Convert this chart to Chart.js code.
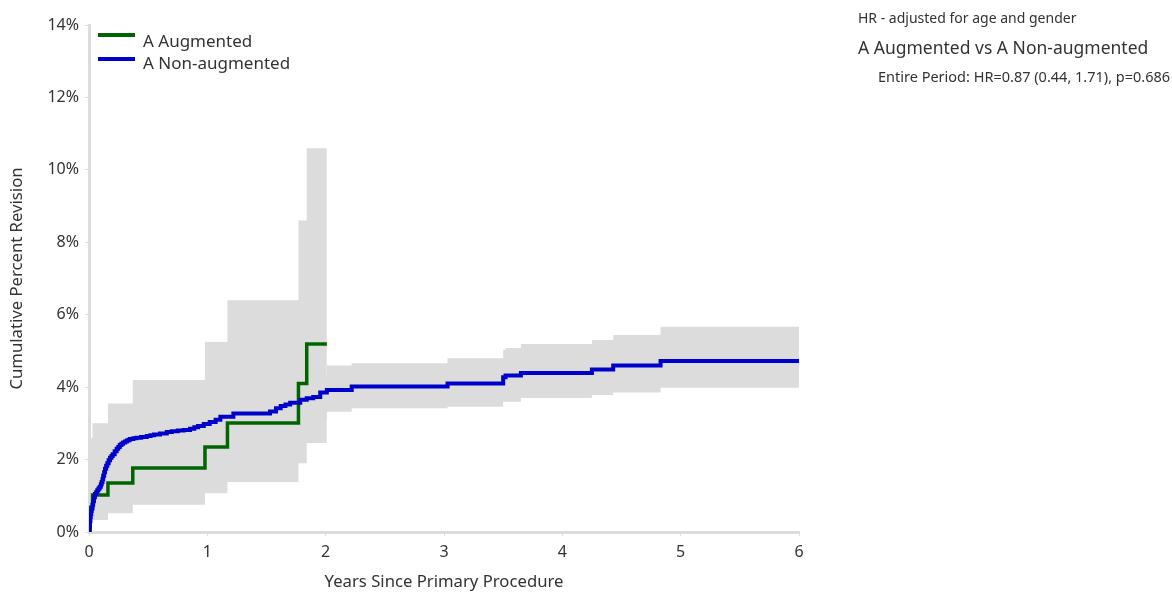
<!DOCTYPE html>
<html>
<head>
<meta charset="utf-8">
<title>Cumulative Percent Revision</title>
<script src="https://cdn.jsdelivr.net/npm/chart.js@4.4.1/dist/chart.umd.min.js"></script>
<style>
    html, body { margin: 0; padding: 0; background: #fff; }
    #wrap { position: relative; width: 1172px; height: 594px; font-family: "Noto Sans", sans-serif; color: #333; }
    #myChart { position: absolute; left: 0; top: 0; }
    .txt { position: absolute; white-space: nowrap; line-height: 1; }
    .key { position: absolute; left: 98px; width: 37px; height: 4px; }
</style>
</head>
<body>
<div id="wrap">
    <canvas id="myChart" width="1172" height="594"></canvas>
    <!-- legend -->
    <div class="key" style="top:33px; background:#006400;"></div>
    <div class="txt" style="left:143px; top:32px; font-size:17px;">A Augmented</div>
    <div class="key" style="top:57px; background:#0000cc;"></div>
    <div class="txt" style="left:143px; top:54px; font-size:17px;">A Non-augmented</div>
    <!-- hazard ratio notes -->
    <div class="txt" style="left:858px; top:11px; font-size:14px;">HR - adjusted for age and gender</div>
    <div class="txt" style="left:858px; top:39px; font-size:17.5px;">A Augmented vs A Non-augmented</div>
    <div class="txt" style="left:878px; top:69px; font-size:14.5px;">Entire Period: HR=0.87 (0.44, 1.71), p=0.686</div>
</div>
<script>
// A Augmented - cumulative percent revision
const augYears = [0, 0.01, 0.03, 0.16, 0.37, 0.98, 1.17, 1.77, 1.84, 2.01];
const augPct   = [0, 0.68, 1.02, 1.35, 1.77, 2.35, 3.01, 4.10, 5.19, 5.19];
// A Augmented - 95% CI
const augUpper = [0, 2.6, 3.0, 3.55, 4.2, 5.25, 6.4, 8.6, 10.6, 10.6];
const augLower = [0, 0.33, 0.33, 0.52, 0.75, 1.07, 1.38, 1.9, 2.46, 2.46];

// A Non-augmented - cumulative percent revision
const nonYears = [0, 0.004, 0.008, 0.012, 0.015, 0.019, 0.023, 0.029, 0.035, 0.042, 0.05, 0.06, 0.07, 0.08,
    0.09, 0.1, 0.107, 0.114, 0.12, 0.128, 0.135, 0.145, 0.155, 0.166, 0.178, 0.19, 0.2, 0.217, 0.234,
    0.247, 0.26, 0.274, 0.288, 0.305, 0.32, 0.335, 0.347, 0.375, 0.4, 0.44, 0.488, 0.52, 0.55, 0.6,
    0.657, 0.7, 0.75, 0.8, 0.854, 0.89, 0.922, 0.97, 1.02, 1.07, 1.11, 1.22, 1.53, 1.58, 1.62, 1.66,
    1.70, 1.785, 1.84, 1.895, 1.954, 2.01, 2.22, 3.03, 3.50, 3.52, 3.65, 4.25, 4.43, 4.83, 6.0];
const nonPct = [0, 0.15, 0.3, 0.42, 0.5, 0.58, 0.65, 0.75, 0.85, 0.96, 1.05, 1.1, 1.15, 1.2,
    1.25, 1.32, 1.38, 1.46, 1.55, 1.65, 1.75, 1.83, 1.9, 1.98, 2.05, 2.1, 2.15, 2.23, 2.3,
    2.35, 2.4, 2.44, 2.47, 2.5, 2.53, 2.55, 2.57, 2.59, 2.6, 2.62, 2.65, 2.67, 2.69, 2.72,
    2.76, 2.78, 2.8, 2.82, 2.85, 2.89, 2.93, 2.98, 3.04, 3.1, 3.18, 3.27, 3.33, 3.42, 3.48, 3.52,
    3.57, 3.65, 3.69, 3.73, 3.85, 3.92, 4.02, 4.1, 4.27, 4.32, 4.39, 4.49, 4.6, 4.72, 4.72];
// A Non-augmented - 95% CI
const nonBandYears = [0, 0.05, 0.1, 0.2, 0.35, 0.6, 1.0, 1.3, 1.6, 1.8, 2.01, 2.22, 3.03, 3.5, 3.52, 3.65, 4.25, 4.43, 4.83, 6.0];
const nonUpper = [0, 1.5, 2.0, 2.7, 3.1, 3.3, 3.6, 3.9, 4.1, 4.3, 4.6, 4.66, 4.8, 5.03, 5.08, 5.19, 5.3, 5.44, 5.67, 5.67];
const nonLower = [0, 0.7, 1.0, 1.7, 2.1, 2.3, 2.6, 2.8, 3.0, 3.1, 3.32, 3.42, 3.46, 3.6, 3.6, 3.7, 3.78, 3.85, 3.98, 3.98];

const yTicks = [0, 2, 4, 6, 8, 10, 12, 14];
const xTicks = [0, 1, 2, 3, 4, 5, 6];

const FONT = '"Noto Sans", sans-serif';
const BAND = '#dcdcdc';
const AXIS = '#dcdcdc';

function pts(xs, ys) {
    return xs.map(function (x, i) { return { x: x, y: ys[i] }; });
}

function band(xs, ys, fill) {
    return {
        data: pts(xs, ys),
        stepped: true,
        borderColor: 'rgba(0,0,0,0)',
        borderWidth: 0,
        backgroundColor: BAND,
        pointRadius: 0,
        fill: fill
    };
}

const ctx = document.getElementById('myChart').getContext('2d');

new Chart(ctx, {
    type: 'line',
    data: {
        datasets: [
            {
                label: 'A Non-augmented',
                data: pts(nonYears, nonPct),
                stepped: true,
                borderColor: '#0000cc',
                borderWidth: 4,
                pointRadius: 0,
                fill: false
            },
            {
                label: 'A Augmented',
                data: pts(augYears, augPct),
                stepped: true,
                borderColor: '#006400',
                borderWidth: 3.5,
                pointRadius: 0,
                fill: false
            },
            band(augYears, augUpper, '+1'),
            band(augYears, augLower, false),
            band(nonBandYears, nonUpper, '+1'),
            band(nonBandYears, nonLower, false)
        ]
    },
    options: {
        responsive: false,
        animation: false,
        layout: {
            padding: { left: 0, right: 373, top: 25, bottom: 0 }
        },
        plugins: {
            legend: { display: false },
            tooltip: { enabled: false },
            filler: { drawTime: 'beforeDatasetsDraw' }
        },
        scales: {
            x: {
                type: 'linear',
                min: 0,
                max: 6,
                afterBuildTicks: function (scale) {
                    scale.ticks = xTicks.map(function (v) { return { value: v }; });
                },
                afterFit: function (scale) { scale.height = 62; },
                ticks: {
                    color: '#333',
                    padding: 7,
                    font: { family: FONT, size: 16 }
                },
                grid: { drawOnChartArea: false, drawTicks: true, tickLength: 4, color: AXIS },
                border: { color: AXIS, width: 3 },
                title: {
                    display: true,
                    text: 'Years Since Primary Procedure',
                    color: '#333',
                    font: { family: FONT, size: 16.7 },
                    padding: { top: 0, bottom: 2 }
                }
            },
            y: {
                min: 0,
                max: 14,
                afterBuildTicks: function (scale) {
                    scale.ticks = yTicks.map(function (v) { return { value: v }; });
                },
                afterFit: function (scale) { scale.width = 89; },
                ticks: {
                    color: '#333',
                    padding: 6,
                    font: { family: FONT, size: 16 },
                    callback: function (value) { return value + '%'; }
                },
                grid: { drawOnChartArea: false, drawTicks: true, tickLength: 4, color: AXIS },
                border: { color: AXIS, width: 3 },
                title: {
                    display: true,
                    text: 'Cumulative Percent Revision',
                    color: '#333',
                    font: { family: FONT, size: 16.7 },
                    padding: { top: 7, bottom: 0 }
                }
            }
        }
    }
});
</script>
</body>
</html>
